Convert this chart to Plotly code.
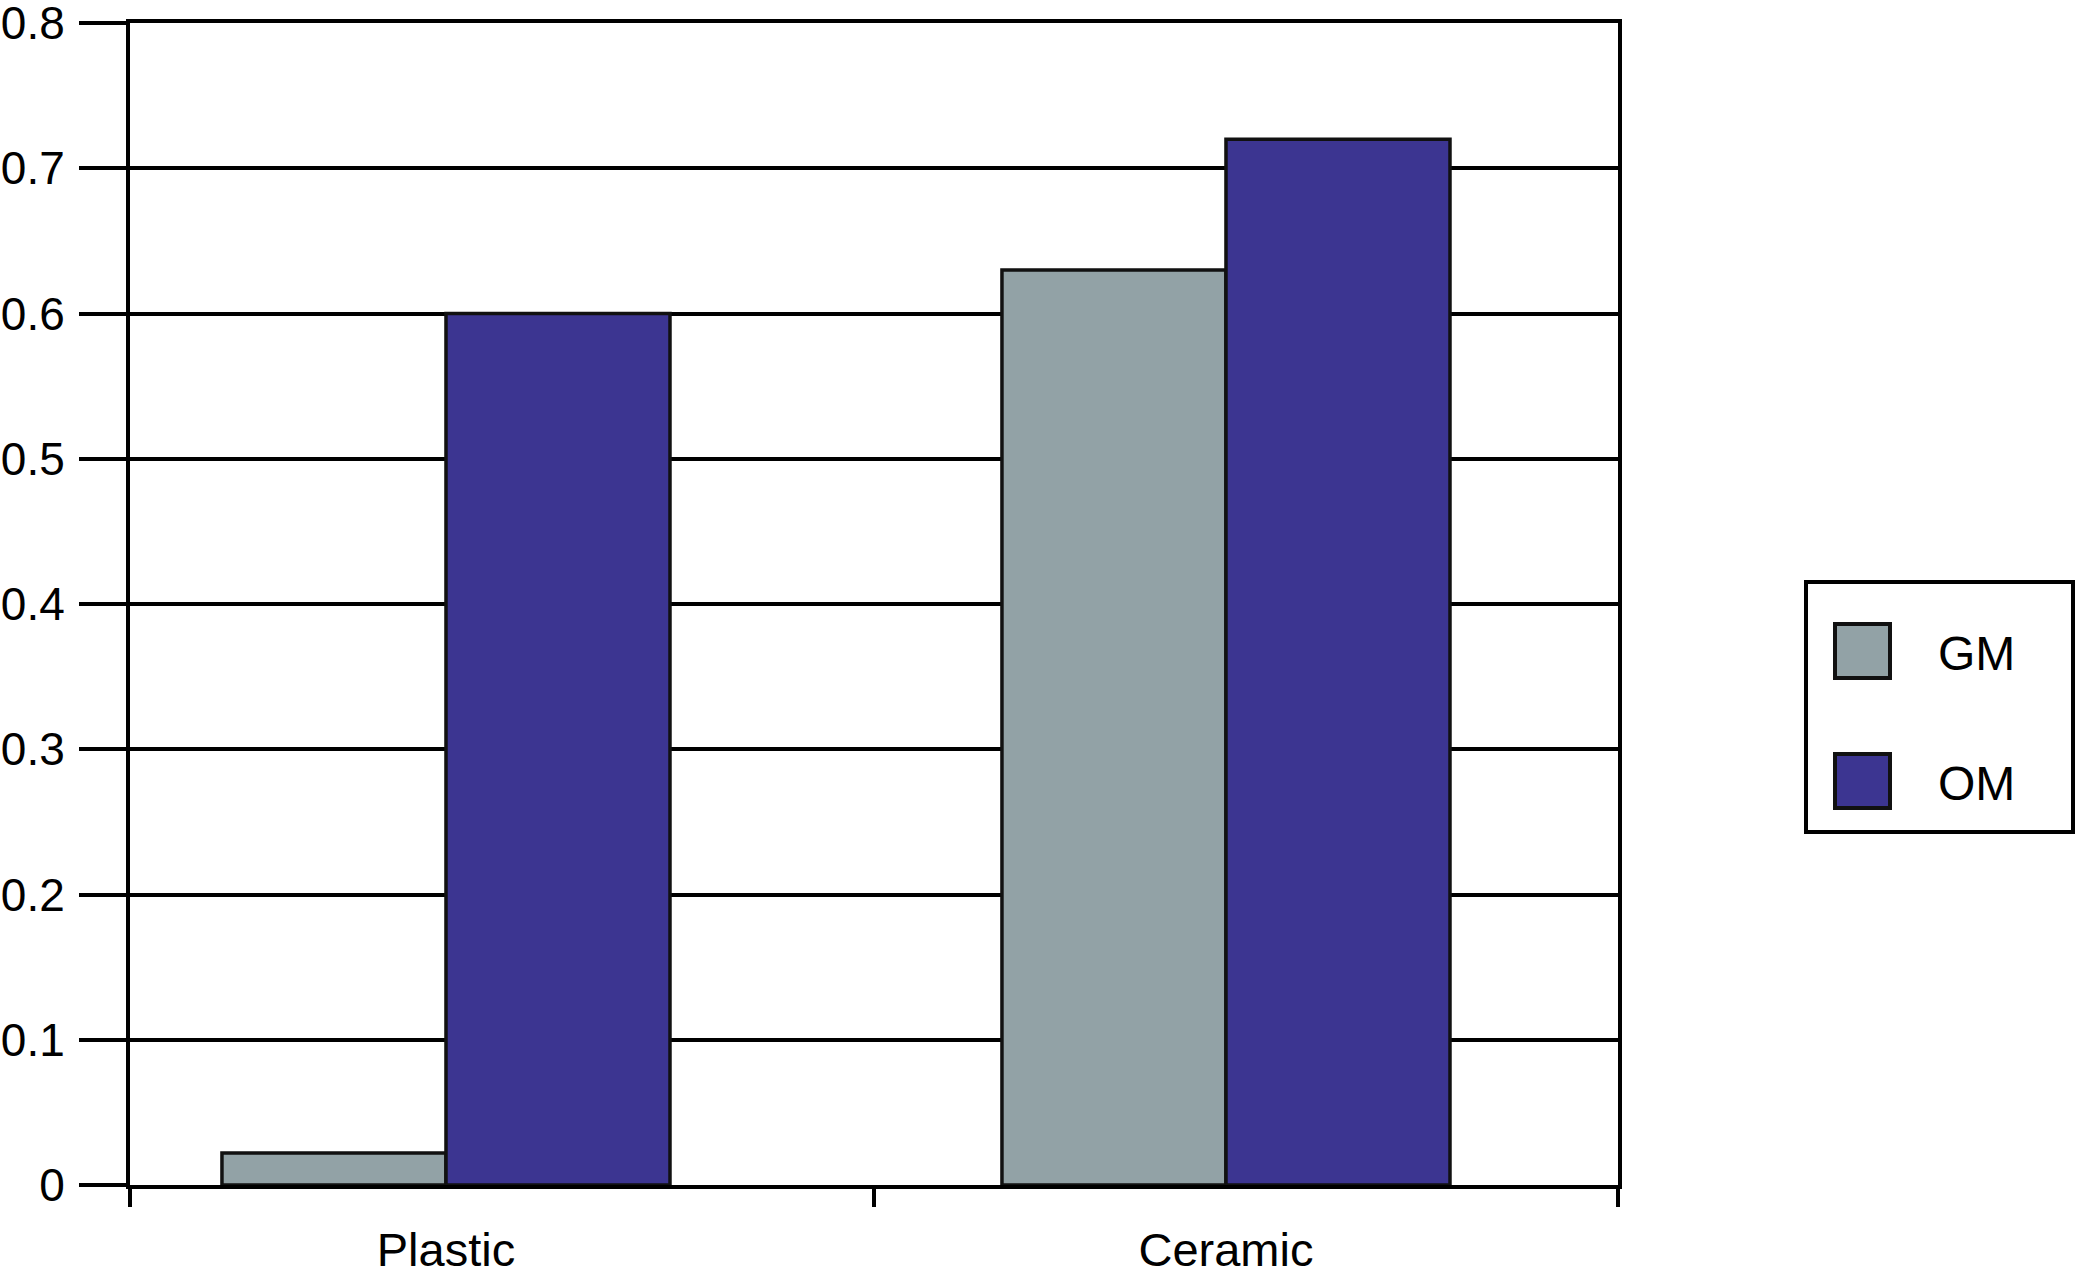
import plotly.graph_objects as go

categories = ["Plastic", "Ceramic"]
series_names = ["GM", "OM"]
gm_values = [0.022, 0.63]
om_values = [0.60, 0.72]
series_colors = ["#92A2A6", "#3C3591"]
y_ticks = [0, 0.1, 0.2, 0.3, 0.4, 0.5, 0.6, 0.7, 0.8]
y_tick_labels = ["0", "0.1", "0.2", "0.3", "0.4", "0.5", "0.6", "0.7", "0.8"]

W, H = 2077, 1278
L, R, T, B = 130, 1618, 23, 1185
FONT = "Liberation Sans, Arial, Helvetica, sans-serif"


def px_x(p):
    return (p - L) / (R - L)


def px_y(p):
    return (B - p) / (B - T)


fig = go.Figure()
for name, vals, col in zip(series_names, [gm_values, om_values], series_colors):
    fig.add_trace(go.Bar(
        x=categories, y=vals, name=name,
        marker=dict(color=col, line=dict(color="#111111", width=3.5)),
        showlegend=False,
    ))

fig.update_layout(
    width=W, height=H,
    margin=dict(l=L, r=W - R, t=T, b=H - B, pad=0),
    paper_bgcolor="white", plot_bgcolor="white",
    barmode="group", bargap=0.4256, bargroupgap=0,
    font=dict(family=FONT, size=47, color="black"),
)
fig.update_xaxes(
    type="category", range=[-0.4051, 1.5026], automargin=False,
    showline=True, linecolor="black", linewidth=4, mirror=True,
    ticks="", showgrid=False, zeroline=False,
    tickfont=dict(family=FONT, size=47, color="black"),
    ticklabelstandoff=21, ticklabeloverflow="allow",
)
fig.update_yaxes(
    range=[0, 0.8], tickvals=y_ticks, ticktext=y_tick_labels, automargin=False,
    showline=True, linecolor="black", linewidth=4, mirror=True,
    ticks="outside", ticklen=47, tickwidth=4, tickcolor="black",
    showgrid=True, gridcolor="black", gridwidth=4, zeroline=False,
    tickfont=dict(family=FONT, size=46, color="black"),
    ticklabelstandoff=5, ticklabeloverflow="allow",
)

# x tick marks at axis ends and middle (category boundaries)
for f in [0, 0.5, 1]:
    fig.add_shape(type="line", xref="x domain", yref="y domain",
                  x0=f, x1=f, y0=0, y1=-22 / (B - T),
                  line=dict(color="black", width=4))

# legend box
fig.add_shape(type="rect", xref="paper", yref="paper",
              x0=px_x(1806), x1=px_x(2073), y0=px_y(832), y1=px_y(582),
              line=dict(color="black", width=4), fillcolor="white")
sw_tops = [624, 754]
for name, col, top in zip(series_names, series_colors, sw_tops):
    fig.add_shape(type="rect", xref="paper", yref="paper",
                  x0=px_x(1835), x1=px_x(1890), y0=px_y(top + 54), y1=px_y(top),
                  line=dict(color="#111111", width=4), fillcolor=col)
    fig.add_annotation(text=name, xref="paper", yref="paper",
                       x=px_x(1936), y=px_y(top + 29), xanchor="left", yanchor="middle",
                       showarrow=False, font=dict(family=FONT, size=48, color="black"))

fig.write_html("out.html", config={"displayModeBar": False},
               post_script="document.body.style.margin='0';")
